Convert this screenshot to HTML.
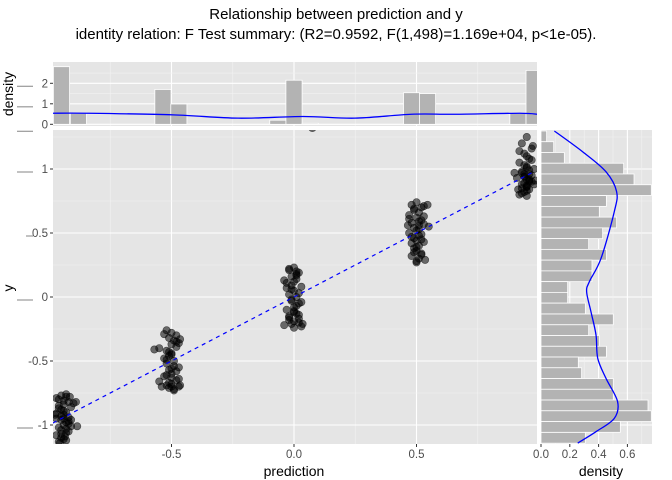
<!DOCTYPE html>
<html><head><meta charset="utf-8"><style>
body{margin:0;background:#fff}
svg{font-family:"Liberation Sans",sans-serif;display:block}
</style></head><body>
<svg id="chart" width="672" height="480" viewBox="0 0 672 480" xmlns="http://www.w3.org/2000/svg">
<text x="336" y="19" font-size="15" text-anchor="middle">Relationship between prediction and y</text>
<text x="336" y="39" font-size="15" text-anchor="middle">identity relation: F Test summary: (R2=0.9592, F(1,498)=1.169e+04, p&lt;1e-05).</text>
<g id="g"></g>
</svg>
<script>
// ---- data ----
const xTicks=[-0.5,0,0.5];
const xTickLabels=["-0.5","0.0","0.5"];
const yTicks=[-1,-0.5,0,0.5,1];
const yTickLabels=["-1","-0.5","0","0.5","1"];
const topBinCenters=[-0.949,-0.88,-0.535,-0.47,-0.066,0,0.066,0.48,0.545,0.914,0.98];
const topBinDensity=[2.81,0.54,1.7,0.99,0.2,2.15,0.05,1.54,1.5,0.54,2.63];
const topDensX=[-0.984,-0.846,-0.493,-0.228,0.037,0.249,0.479,0.656,0.921,0.992];
const topDensY=[0.54,0.54,0.46,0.3,0.38,0.3,0.49,0.49,0.54,0.49];
const rightBinCenters=[1.255,1.171,1.087,1.003,0.919,0.835,0.750,0.666,0.582,0.498,0.414,0.330,0.246,0.162,0.078,-0.006,-0.090,-0.175,-0.259,-0.343,-0.427,-0.511,-0.595,-0.679,-0.763,-0.847,-0.931,-1.015,-1.100];
const rightBinDensity=[0.039,0.088,0.162,0.574,0.646,0.766,0.454,0.405,0.525,0.428,0.331,0.454,0.354,0.354,0.185,0.185,0.308,0.502,0.331,0.405,0.454,0.259,0.282,0.502,0.502,0.743,0.766,0.551,0.308];
const rightDensY=[1.297,1.135,0.979,0.823,0.667,0.302,0.12,0.04,-0.115,-0.297,-0.479,-0.635,-0.818,-0.948,-1.052,-1.141];
const rightDensX=[0.093,0.289,0.451,0.525,0.509,0.417,0.336,0.317,0.347,0.382,0.394,0.451,0.532,0.509,0.382,0.255];
const rightTicks=[0,0.2,0.4,0.6];
const rightTickLabels=["0.0","0.2","0.4","0.6"];
const topTicks=[0,1,2];
const predA=[-0.95,-0.93,-0.96,-0.92,-0.94,-0.97,-0.91,-0.95,-0.93,-0.96,-0.94,-0.92,-0.95,-0.97,-0.93,-0.90,-0.94,-0.96,-0.92,-0.95,-0.93,-0.94,-0.97,-0.91,-0.95,-0.93,-0.96,-0.92,-0.94,-0.95,-0.89,-0.93,-0.96,-0.94,-0.92,-0.95,-0.97,-0.93,-0.94,-0.91,-0.975,-0.885,-0.955,-0.915,-0.935];
const yA=[-0.77,-0.78,-0.80,-0.82,-0.84,-0.79,-0.86,-0.88,-0.90,-0.85,-0.92,-0.94,-0.96,-0.91,-0.98,-0.83,-1.00,-1.02,-0.97,-1.04,-1.06,-0.95,-1.08,-1.01,-1.10,-1.12,-0.87,-1.05,-0.81,-0.93,-0.82,-1.03,-1.13,-0.89,-0.99,-1.07,-0.95,-0.76,-1.11,-0.96,-0.92,-1.01,-1.14,-0.78,-1.09];
const predB=[-0.52,-0.50,-0.48,-0.51,-0.53,-0.49,-0.50,-0.55,-0.47,-0.52,-0.50,-0.48,-0.51,-0.53,-0.49,-0.50,-0.52,-0.47,-0.51,-0.49,-0.50,-0.53,-0.48,-0.51,-0.52,-0.50,-0.49,-0.47,-0.51,-0.50,-0.55,-0.48,-0.52,-0.50,-0.49,-0.51,-0.48,-0.52,-0.50,-0.47,-0.465,-0.57,-0.465,-0.54];
const yB=[-0.26,-0.28,-0.30,-0.32,-0.29,-0.34,-0.37,-0.40,-0.36,-0.42,-0.44,-0.39,-0.46,-0.48,-0.50,-0.45,-0.52,-0.55,-0.57,-0.54,-0.60,-0.62,-0.65,-0.67,-0.69,-0.70,-0.72,-0.70,-0.71,-0.68,-0.66,-0.58,-0.61,-0.63,-0.73,-0.43,-0.35,-0.49,-0.56,-0.64,-0.69,-0.41,-0.33,-0.70];
const predC=[0.00,-0.02,0.02,-0.01,0.01,-0.03,0.03,0.00,-0.02,0.01,-0.01,0.02,0.00,-0.03,0.01,-0.02,0.02,0.00,-0.01,0.03,-0.02,0.01,0.00,-0.03,0.02,-0.01,0.01,0.00,-0.02,0.02,-0.04,0.01,-0.01,0.03,0.00,-0.02,0.01,-0.01,0.02,0.00,0.075,0.035,-0.04];
const yC=[0.23,0.21,0.19,0.16,0.14,0.11,0.08,0.05,0.02,0.00,-0.03,-0.05,-0.08,-0.10,-0.13,-0.15,-0.17,-0.19,-0.21,-0.23,0.22,0.18,0.12,0.07,0.03,-0.02,-0.07,-0.12,-0.16,-0.20,-0.22,0.17,0.09,-0.04,-0.11,-0.18,0.20,0.06,-0.14,-0.24,1.32,-0.21,0.13];
const predD=[0.50,0.48,0.52,0.49,0.51,0.53,0.47,0.50,0.52,0.48,0.51,0.49,0.50,0.53,0.47,0.51,0.49,0.52,0.50,0.48,0.51,0.53,0.49,0.50,0.52,0.48,0.51,0.50,0.55,0.49,0.52,0.50,0.48,0.51,0.53,0.50,0.49,0.52,0.47,0.51,0.545,0.465,0.535];
const yD=[0.74,0.72,0.70,0.68,0.66,0.71,0.64,0.62,0.60,0.58,0.56,0.54,0.52,0.57,0.50,0.48,0.46,0.49,0.44,0.42,0.40,0.43,0.38,0.36,0.34,0.32,0.30,0.28,0.55,0.69,0.33,0.39,0.47,0.59,0.63,0.27,0.35,0.45,0.61,0.53,0.72,0.56,0.29];
const predE=[0.95,0.93,0.97,0.94,0.96,0.92,0.95,0.98,0.93,0.96,0.94,0.95,0.97,0.93,0.95,0.96,0.94,0.92,0.95,0.97,0.93,0.96,0.94,0.95,0.91,0.96,0.94,0.97,0.93,0.95,0.96,0.94,0.95,0.98,0.93,0.95,0.94,0.96,0.92,0.95,0.90,0.985,0.915,0.975];
const yE=[1.25,1.20,1.16,1.12,1.08,1.05,1.02,1.00,0.98,0.96,0.94,0.92,0.90,0.88,0.86,0.84,0.82,0.80,0.79,0.95,0.97,0.91,0.89,0.87,0.93,0.99,1.03,1.07,0.85,0.83,0.92,0.96,1.01,0.88,0.81,1.10,0.94,0.90,1.14,0.86,0.97,0.91,0.84,1.18];

// ---- layout ----
const P={l:53,r:537,t:130,b:444};
const T={t:62,b:126};
const R={l:541,r:652};
const sx=v=>294+245*v;
const sy=v=>297-128*v;
const tY=v=>124.3-20.5*v;
const rX=v=>R.l+144*v;
const NS="http://www.w3.org/2000/svg";
const g=document.getElementById('g');
function mk(tag,attrs,parent){const e=document.createElementNS(NS,tag);for(const k in attrs)e.setAttribute(k,attrs[k]);(parent||g).appendChild(e);return e;}
function txt(s,attrs,parent){const e=mk('text',attrs,parent);e.textContent=s;return e;}
function smooth(pts){let d='M'+pts[0][0]+','+pts[0][1];
 for(let i=0;i<pts.length-1;i++){const p0=pts[i-1]||pts[i],p1=pts[i],p2=pts[i+1],p3=pts[i+2]||p2;
  const c1=[p1[0]+(p2[0]-p0[0])/6,p1[1]+(p2[1]-p0[1])/6],c2=[p2[0]-(p3[0]-p1[0])/6,p2[1]-(p3[1]-p1[1])/6];
  d+='C'+c1[0]+','+c1[1]+' '+c2[0]+','+c2[1]+' '+p2[0]+','+p2[1];}
 return d;}

const defs=mk('defs',{});
const c1=mk('clipPath',{id:'cm'},defs);mk('rect',{x:P.l,y:P.t,width:P.r-P.l,height:P.b-P.t},c1);
const c2=mk('clipPath',{id:'ct'},defs);mk('rect',{x:P.l,y:T.t,width:P.r-P.l,height:T.b-T.t},c2);
const c3=mk('clipPath',{id:'cr'},defs);mk('rect',{x:R.l,y:P.t,width:R.r-R.l,height:P.b-P.t},c3);

const mainBg=mk('rect',{x:P.l,y:P.t,width:P.r-P.l,height:P.b-P.t,fill:'#e5e5e5'});


const topBg=mk('rect',{x:P.l,y:T.t,width:P.r-P.l,height:T.b-T.t,fill:'#e5e5e5'});


const rBg=mk('rect',{x:R.l,y:P.t,width:R.r-R.l,height:P.b-P.t,fill:'#e5e5e5'});



const grid=mk('g',{});


[-0.75,-0.25,0.25,0.75].forEach(v=>{mk('line',{x1:sx(v),x2:sx(v),y1:P.t,y2:P.b,stroke:'#f2f2f2','stroke-width':0.6},grid);mk('line',{x1:sx(v),x2:sx(v),y1:T.t,y2:T.b,stroke:'#f2f2f2','stroke-width':0.6},grid);});
xTicks.forEach(v=>{mk('line',{x1:sx(v),x2:sx(v),y1:P.t,y2:P.b,stroke:'#fff','stroke-width':1.1},grid);mk('line',{x1:sx(v),x2:sx(v),y1:T.t,y2:T.b,stroke:'#fff','stroke-width':1.1},grid);});
[-0.75,-0.25,0.25,0.75,1.25].forEach(v=>{mk('line',{x1:P.l,x2:P.r,y1:sy(v),y2:sy(v),stroke:'#f2f2f2','stroke-width':0.6},grid);mk('line',{x1:R.l,x2:R.r,y1:sy(v),y2:sy(v),stroke:'#f2f2f2','stroke-width':0.6},grid);});
yTicks.forEach(v=>{mk('line',{x1:P.l,x2:P.r,y1:sy(v),y2:sy(v),stroke:'#fff','stroke-width':1.1},grid);mk('line',{x1:R.l,x2:R.r,y1:sy(v),y2:sy(v),stroke:'#fff','stroke-width':1.1},grid);});
[0.5,1.5,2.5].forEach(v=>mk('line',{x1:P.l,x2:P.r,y1:tY(v),y2:tY(v),stroke:'#f2f2f2','stroke-width':0.6},grid));
topTicks.forEach(v=>mk('line',{x1:P.l,x2:P.r,y1:tY(v),y2:tY(v),stroke:'#fff','stroke-width':1.1},grid));
[0.1,0.3,0.5,0.7].forEach(v=>mk('line',{x1:rX(v),x2:rX(v),y1:P.t,y2:P.b,stroke:'#f2f2f2','stroke-width':0.6},grid));
rightTicks.forEach(v=>mk('line',{x1:rX(v),x2:rX(v),y1:P.t,y2:P.b,stroke:'#fff','stroke-width':1.1},grid));

const tg=mk('g',{'clip-path':'url(#ct)'});


const bw=0.066;
topBinCenters.forEach((c,i)=>{const x0=sx(c-bw/2),x1=sx(c+bw/2),y=tY(topBinDensity[i]);
 const r=mk('rect',{x:x0,y:y,width:x1-x0,height:tY(0)-y,fill:'#b3b3b3',stroke:'#fff','stroke-width':0.8},tg);
 
 });
const tp=mk('path',{d:smooth(topDensX.map((v,i)=>[sx(v),tY(topDensY[i])])),fill:'none',stroke:'#0000ff','stroke-width':1.3},tg);



const rg=mk('g',{'clip-path':'url(#cr)'});


const bh=0.0841;
rightBinCenters.forEach((c,i)=>{const y0=sy(c+bh/2),y1=sy(c-bh/2);
 const r=mk('rect',{x:R.l,y:y0,width:rX(rightBinDensity[i])-R.l,height:y1-y0,fill:'#b3b3b3',stroke:'#fff','stroke-width':0.8},rg);
 
 });
const rp=mk('path',{d:smooth(rightDensY.map((v,i)=>[rX(rightDensX[i]),sy(v)])),fill:'none',stroke:'#0000ff','stroke-width':1.3},rg);



const pg=mk('g',{'clip-path':'url(#cm)'});


[[predA,yA],[predB,yB],[predC,yC],[predD,yD],[predE,yE]].forEach(([xs,ys])=>{
 xs.forEach((v,i)=>{const c=mk('circle',{cx:sx(v),cy:sy(ys[i]),r:3.7,fill:'rgba(0,0,0,0.55)',stroke:'rgba(0,0,0,0.55)','stroke-width':0.6},pg);
 
 });});
const idl=mk('line',{x1:sx(-0.984),y1:sy(-0.984),x2:sx(0.975),y2:sy(0.975),stroke:'#0000ff','stroke-width':1.2,'stroke-dasharray':'4,4','clip-path':'url(#cm)'});



const ax=mk('g',{fill:'#4d4d4d','font-size':11.5});


xTicks.forEach((v,i)=>{mk('line',{x1:sx(v),x2:sx(v),y1:P.b,y2:P.b+3,stroke:'#333'},ax);
 const t=txt(xTickLabels[i],{x:sx(v),y:P.b+14,'text-anchor':'middle'},ax);
 
 });
yTicks.forEach((v,i)=>{mk('line',{x1:P.l-3,x2:P.l,y1:sy(v),y2:sy(v),stroke:'#333'},ax);
 const t=txt(yTickLabels[i],{x:P.l-5,y:sy(v)+4,'text-anchor':'end'},ax);
 
 });
topTicks.forEach(v=>{mk('line',{x1:P.l-3,x2:P.l,y1:tY(v),y2:tY(v),stroke:'#333'},ax);
 const t=txt(String(v),{x:P.l-5,y:tY(v)+4,'text-anchor':'end'},ax);
 
 });
rightTicks.forEach((v,i)=>{mk('line',{x1:rX(v),x2:rX(v),y1:P.b,y2:P.b+3,stroke:'#333'},ax);
 const t=txt(rightTickLabels[i],{x:rX(v),y:P.b+14,'text-anchor':'middle'},ax);
 
 });
[[sy(1),17],[sy(0),17],[sy(-1),17],[sy(0.5),26],[tY(2),17],[tY(1),17],[tY(0)+4,17]].forEach(([y,x])=>{
 mk('line',{x1:x,x2:33,y1:y+3,y2:y+3,stroke:'#999','stroke-width':1.2},ax);});

const xt=txt('prediction',{x:294,y:476,'text-anchor':'middle','font-size':14});


const dt=txt('density',{x:601,y:476,'text-anchor':'middle','font-size':14});


const yt=txt('y',{x:0,y:0,'text-anchor':'middle','font-size':14,transform:'translate(13,288) rotate(-90)'});


const tt=txt('density',{x:0,y:0,'text-anchor':'middle','font-size':14,transform:'translate(13,94) rotate(-90)'});


</script>
</body></html>
